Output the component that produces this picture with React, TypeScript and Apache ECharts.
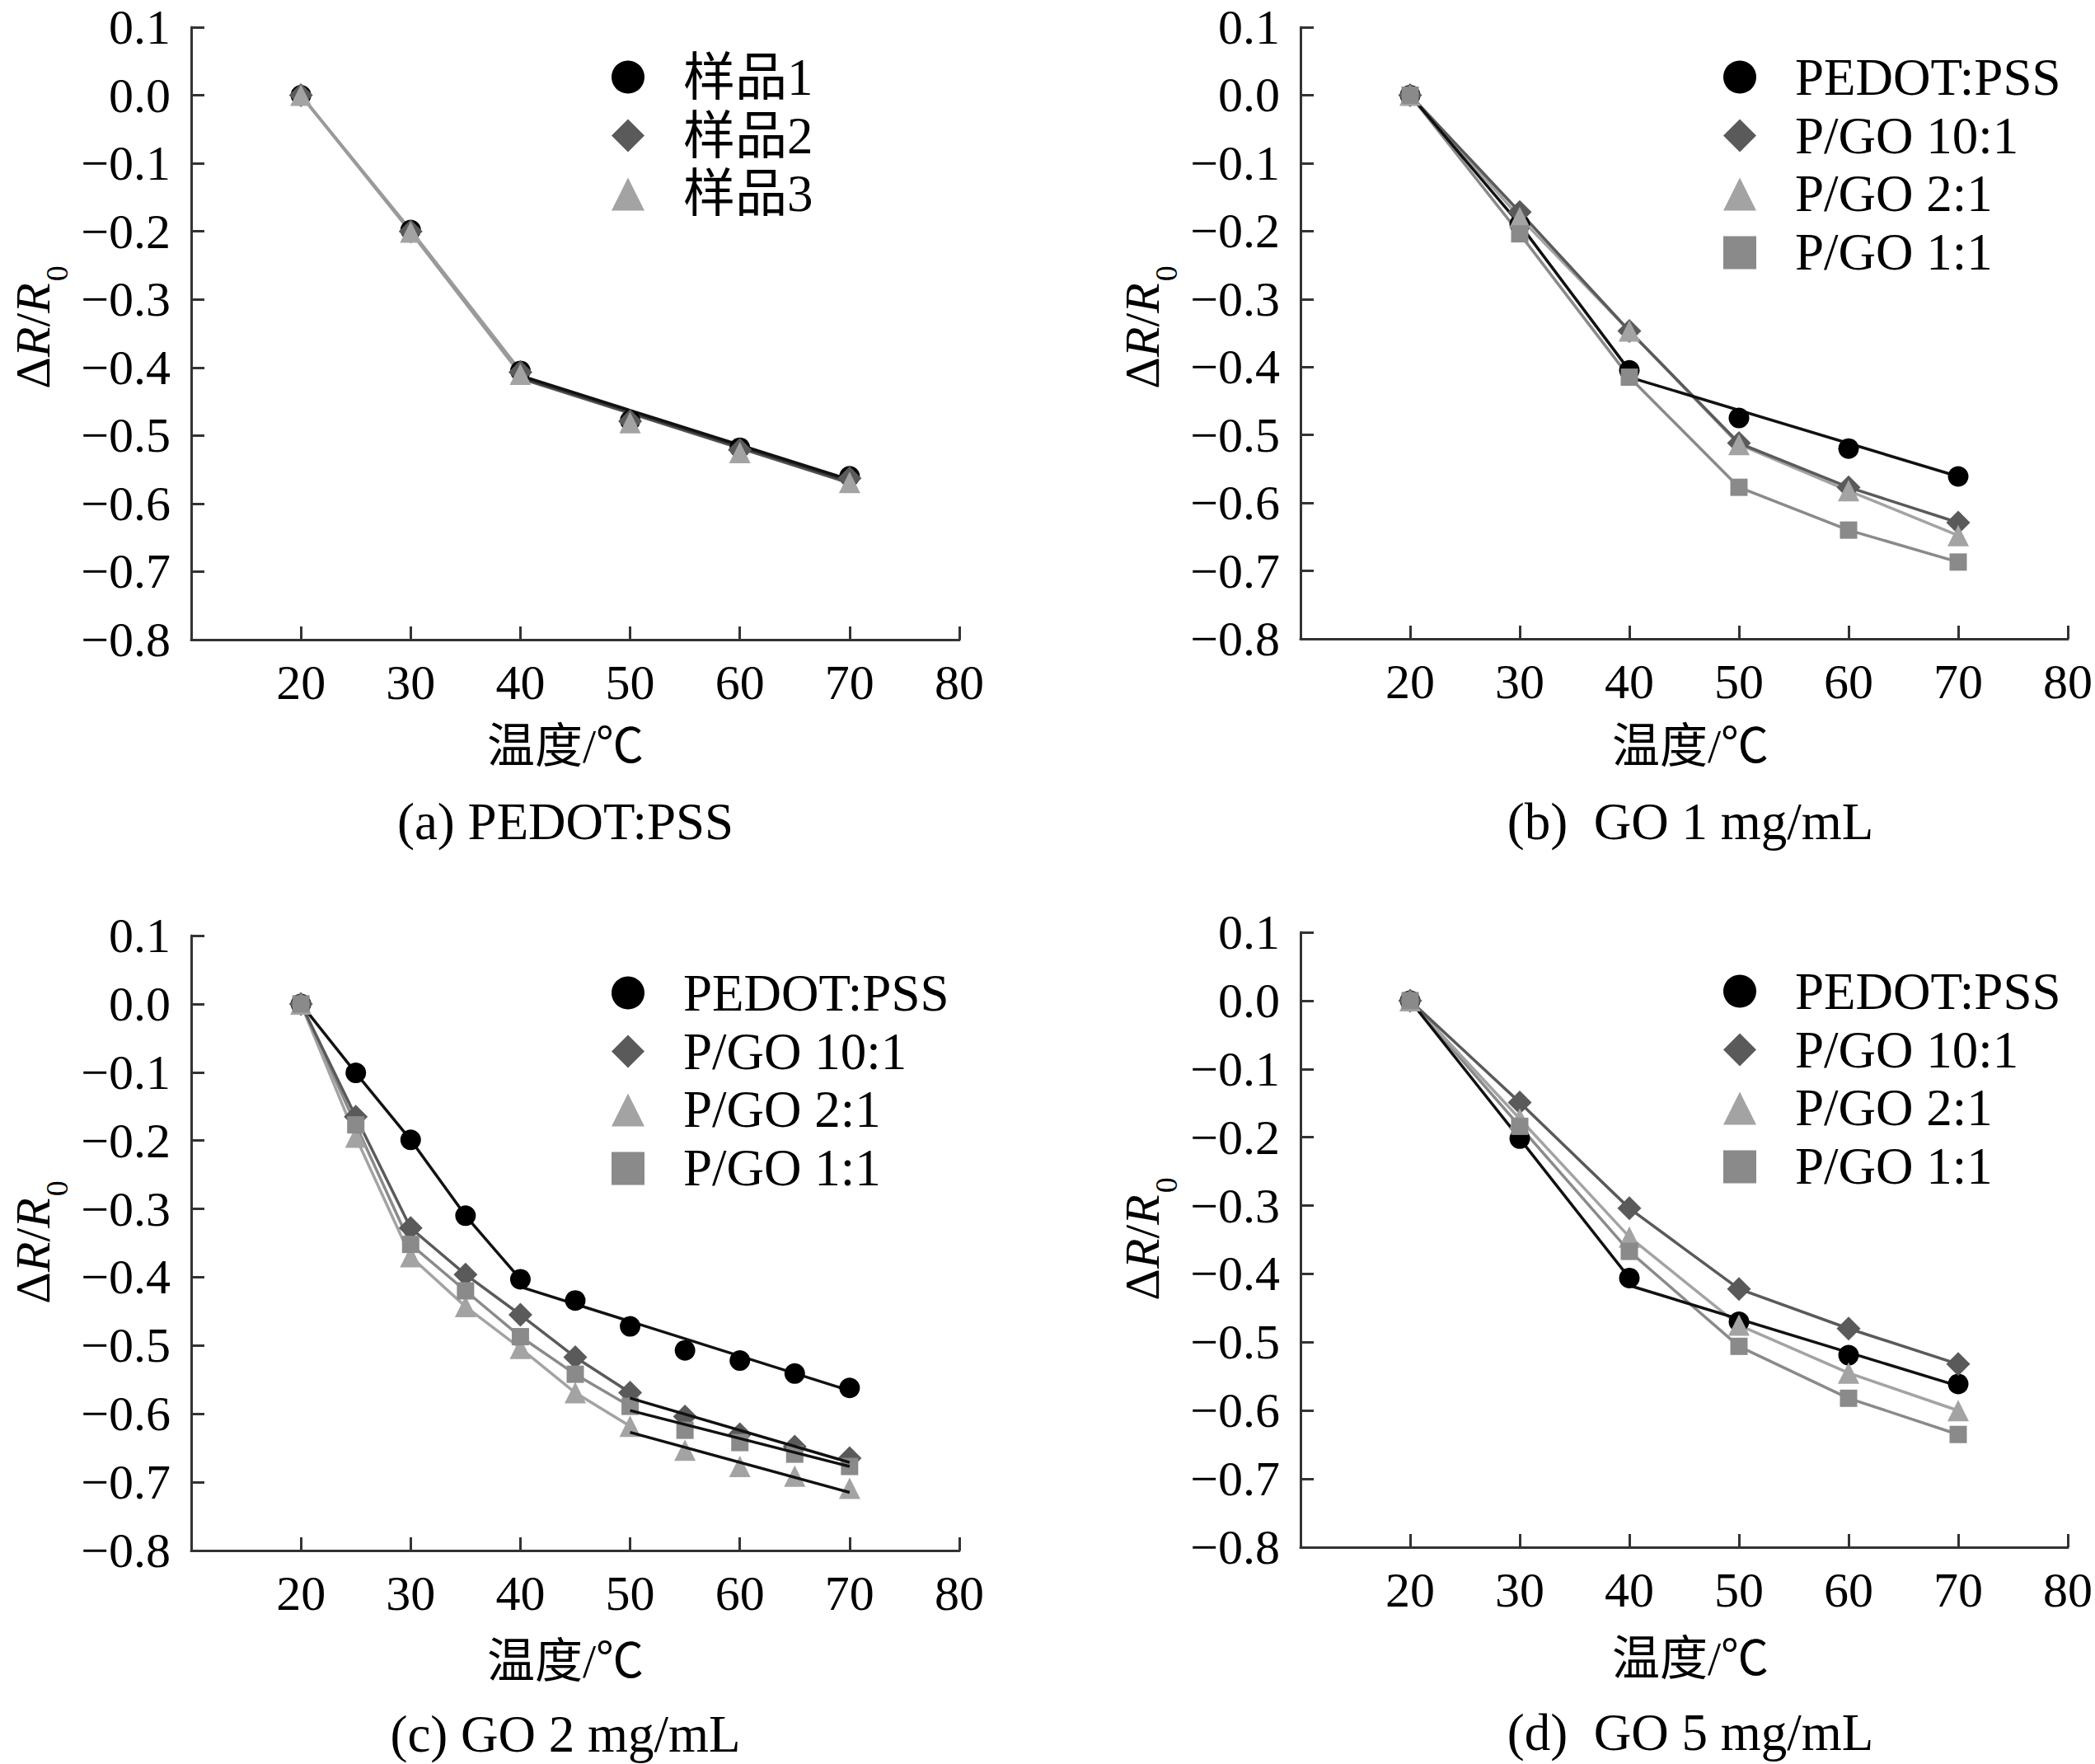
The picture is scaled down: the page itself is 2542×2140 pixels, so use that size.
import React, { useEffect, useRef } from 'react';
import * as echarts from 'echarts';

// ---------- data ----------
const X6 = [20, 30, 40, 50, 60, 70];
const X11 = [20, 25, 30, 35, 40, 45, 50, 55, 60, 65, 70];
const xTicks = [20, 30, 40, 50, 60, 70, 80];
const yTicks = [0.1, 0.0, -0.1, -0.2, -0.3, -0.4, -0.5, -0.6, -0.7, -0.8];

const namesA = ['样品1', '样品2', '样品3'];
const namesGO = ['PEDOT:PSS', 'P/GO 10:1', 'P/GO 2:1', 'P/GO 1:1'];
const captions = ['(a) PEDOT:PSS', '(b)  GO 1 mg/mL', '(c) GO 2 mg/mL', '(d)  GO 5 mg/mL'];
const xName = '温度/℃';

// (a) PEDOT:PSS
const aSample1 = [0, -0.198, -0.405, -0.478, -0.518, -0.56];
const aSample2 = [0, -0.2, -0.407, -0.479, -0.521, -0.563];
const aSample3 = [0, -0.201, -0.41, -0.481, -0.525, -0.569];
const aFitX = [40, 70];
const aFit1 = [-0.412, -0.565];
const aFit2 = [-0.414, -0.567];
const aFit3 = [-0.416, -0.57];

// (b) GO 1 mg/mL
const bPedot = [0, -0.19, -0.405, -0.475, -0.52, -0.561];
const b10 = [0, -0.172, -0.347, -0.512, -0.577, -0.629];
const b2 = [0, -0.18, -0.347, -0.514, -0.582, -0.648];
const b1 = [0, -0.204, -0.415, -0.577, -0.64, -0.687];
const bFitX = [40, 70];
const bFitPedot = [-0.415, -0.561];

// (c) GO 2 mg/mL
const cPedot = [0, -0.101, -0.199, -0.31, -0.403, -0.434, -0.472, -0.507, -0.522, -0.541, -0.562];
const c10 = [0, -0.165, -0.328, -0.396, -0.455, -0.517, -0.569, -0.604, -0.63, -0.648, -0.665];
const c2 = [0, -0.195, -0.37, -0.443, -0.504, -0.569, -0.618, -0.653, -0.677, -0.691, -0.709];
const c1 = [0, -0.177, -0.352, -0.42, -0.487, -0.542, -0.589, -0.624, -0.642, -0.659, -0.677];
const cFitPedotX = [40, 70];
const cFitPedot = [-0.414, -0.566];
const cFitGOX = [50, 70];
const cFit10 = [-0.577, -0.671];
const cFit2 = [-0.627, -0.715];
const cFit1 = [-0.595, -0.677];

// (d) GO 5 mg/mL
const dPedot = [0, -0.202, -0.406, -0.47, -0.519, -0.561];
const d10 = [0, -0.149, -0.304, -0.422, -0.48, -0.532];
const d2 = [0, -0.173, -0.346, -0.475, -0.545, -0.6];
const d1 = [0, -0.184, -0.367, -0.506, -0.582, -0.635];
const dFitX = [40, 70];
const dFitPedot = [-0.417, -0.564];

// ---------- styles ----------
const FONT = "'Liberation Serif', 'Times New Roman', 'Noto Sans CJK SC', serif";
const FS = 60;
const FS_LEG = 63;
const FS_CAP = 63;
const AXIS_COLOR = '#333333';
const MARKS = [
  { symbol: 'circle', size: 25, color: '#000000' },
  { symbol: 'diamond', size: 29, color: '#5a5a5a' },
  { symbol: 'triangle', size: 26, color: '#a3a3a3' },
  { symbol: 'rect', size: 21, color: '#8a8a8a' },
];

const grids = [
  { left: 232, top: 33, width: 932, height: 743 },
  { left: 1578, top: 33, width: 932, height: 742 },
  { left: 232, top: 1135, width: 932, height: 746 },
  { left: 1578, top: 1131, width: 932, height: 746 },
];

const legendPos = [
  { left: 742, top: 62 },
  { left: 2091, top: 62 },
  { left: 742, top: 1173 },
  { left: 2091, top: 1171 },
];

const yNamePos = [
  [32, 397],
  [1378, 397],
  [32, 1507],
  [1378, 1503],
];
const xNamePos = [
  [686, 905],
  [2051, 905],
  [686, 2015],
  [2051, 2012],
];
const capPos = [
  [686, 997],
  [2051, 997],
  [686, 2104],
  [2051, 2102],
];

const zip = (xs: number[], ys: number[]) => xs.map((x, i) => [x, ys[i]]);

function fmtY(v: number) {
  if (Math.abs(v) < 1e-9) return '0.0';
  return v.toFixed(1).replace('-', '\u2212');
}

export default function App() {
  const ref = useRef<HTMLDivElement>(null);

  useEffect(() => {
    document.body.style.margin = '0';
    if (!ref.current) return;
    const chart = echarts.init(ref.current, null, { renderer: 'svg' });

    const series: any[] = [];
    const scatter = (g: number, name: string, m: number, xs: number[], ys: number[]) => {
      series.push({
        type: 'scatter',
        name,
        xAxisIndex: g,
        yAxisIndex: g,
        symbol: MARKS[m].symbol,
        symbolSize: MARKS[m].size,
        itemStyle: { color: MARKS[m].color, opacity: 1 },
        data: zip(xs, ys),
        z: 4,
      });
    };
    const line = (g: number, id: string, color: string, xs: number[], ys: number[], z = 2) => {
      series.push({
        type: 'line',
        name: id,
        xAxisIndex: g,
        yAxisIndex: g,
        showSymbol: false,
        symbol: 'none',
        lineStyle: { color, width: 3.5 },
        data: zip(xs, ys),
        z,
        silent: true,
      });
    };

    // (a)
    const aAll = [aSample1, aSample2, aSample3];
    const aFits = [aFit1, aFit2, aFit3];
    namesA.forEach((n, i) => scatter(0, n, i, X6, aAll[i]));
    [2, 1, 0].forEach((i) => {
      line(0, 'a-seg-' + i, '#9a9a9a', X6.slice(0, 3), aAll[i].slice(0, 3));
    });
    [2, 1, 0].forEach((i) => {
      line(0, 'a-fit-' + i, ['#111111', '#333333', '#555555'][i], aFitX, aFits[i], 3);
    });

    // (b)
    const bAll = [bPedot, b10, b2, b1];
    namesGO.forEach((n, i) => scatter(1, n, i, X6, bAll[i]));
    [3, 2, 1].forEach((i) => line(1, 'b-line-' + i, MARKS[i].color, X6, bAll[i]));
    line(1, 'b-seg-0', '#111111', X6.slice(0, 3), bPedot.slice(0, 3), 3);
    line(1, 'b-fit-0', '#111111', bFitX, bFitPedot, 3);

    // (c)
    const cAll = [cPedot, c10, c2, c1];
    const cFits = [null, cFit10, cFit2, cFit1];
    namesGO.forEach((n, i) => scatter(2, n, i, X11, cAll[i]));
    [3, 2, 1].forEach((i) => {
      line(2, 'c-seg-' + i, MARKS[i].color, X11.slice(0, 7), cAll[i].slice(0, 7));
    });
    [3, 2, 1].forEach((i) => line(2, 'c-fit-' + i, '#111111', cFitGOX, cFits[i] as number[], 5));
    line(2, 'c-seg-0', '#111111', X11.slice(0, 5), cPedot.slice(0, 5), 3);
    line(2, 'c-fit-0', '#111111', cFitPedotX, cFitPedot, 3);

    // (d)
    const dAll = [dPedot, d10, d2, d1];
    namesGO.forEach((n, i) => scatter(3, n, i, X6, dAll[i]));
    [3, 2, 1].forEach((i) => line(3, 'd-line-' + i, MARKS[i].color, X6, dAll[i]));
    line(3, 'd-seg-0', '#111111', X6.slice(0, 3), dPedot.slice(0, 3), 3);
    line(3, 'd-fit-0', '#111111', dFitX, dFitPedot, 3);

    const xAxis = grids.map((_, g) => ({
      type: 'value',
      gridIndex: g,
      min: 10,
      max: 80,
      interval: 10,
      axisLine: { show: true, onZero: false, lineStyle: { color: AXIS_COLOR, width: 3 } },
      axisTick: { show: true, inside: true, length: 16, lineStyle: { color: AXIS_COLOR, width: 3 } },
      axisLabel: {
        show: true,
        margin: 27,
        fontFamily: FONT,
        fontSize: FS,
        lineHeight: 50,
        color: '#000',
        formatter: (v: number) => (xTicks.includes(Math.round(v)) ? String(Math.round(v)) : ''),
      },
      splitLine: { show: false },
    }));

    const yAxis = grids.map((_, g) => ({
      type: 'value',
      gridIndex: g,
      min: -0.8,
      max: 0.1,
      interval: 0.1,
      axisLine: { show: true, onZero: false, lineStyle: { color: AXIS_COLOR, width: 3 } },
      axisTick: { show: true, inside: true, length: 16, lineStyle: { color: AXIS_COLOR, width: 3 } },
      axisLabel: {
        show: true,
        margin: 25,
        fontFamily: FONT,
        fontSize: FS,
        lineHeight: 48,
        color: '#000',
        formatter: (v: number) => {
          const ok = yTicks.some((t) => Math.abs(t - v) < 1e-6);
          return ok ? fmtY(v) : '';
        },
      },
      splitLine: { show: false },
    }));

    const legendNames = [namesA, namesGO, namesGO, namesGO];
    const legend = legendPos.map((p, g) => ({
      left: p.left,
      top: p.top,
      orient: 'vertical',
      padding: 0,
      itemWidth: 40,
      itemHeight: 40,
      itemGap: 8,
      selectedMode: false,
      textStyle: {
        fontFamily: FONT,
        fontSize: FS_LEG,
        color: '#000',
        lineHeight: 60,
        padding: [0, 0, 0, 42],
      },
      data: legendNames[g].map((n, i) => ({
        name: n,
        icon: MARKS[i].symbol,
        itemStyle: { color: MARKS[i].color },
      })),
    }));

    const graphic: any[] = [];
    yNamePos.forEach(([x, y]) => {
      graphic.push({
        type: 'text',
        x,
        y,
        rotation: Math.PI / 2,
        style: {
          text: '{n|Δ}{i|R}{n|/}{i|R}{s|0}',
          align: 'center',
          verticalAlign: 'middle',
          fill: '#000',
          rich: {
            n: { fontFamily: FONT, fontSize: FS, lineHeight: 44, verticalAlign: 'top' },
            i: { fontFamily: FONT, fontSize: FS, fontStyle: 'italic', lineHeight: 44, verticalAlign: 'top' },
            s: { fontFamily: FONT, fontSize: 38, lineHeight: 24, padding: [40, 0, 0, 2], verticalAlign: 'top' },
          },
        },
      });
    });
    xNamePos.forEach(([x, y]) => {
      graphic.push({
        type: 'text',
        x,
        y,
        style: {
          text: xName,
          align: 'center',
          verticalAlign: 'middle',
          fontFamily: FONT,
          fontSize: 58,
          lineHeight: 58,
          fill: '#000',
        },
      });
    });
    capPos.forEach(([x, y], g) => {
      graphic.push({
        type: 'text',
        x,
        y,
        style: {
          text: captions[g],
          align: 'center',
          verticalAlign: 'middle',
          fontFamily: FONT,
          fontSize: FS_CAP,
          lineHeight: 56,
          fill: '#000',
        },
      });
    });

    chart.setOption({
      animation: false,
      backgroundColor: '#ffffff',
      grid: grids,
      xAxis,
      yAxis,
      legend,
      series,
      graphic,
    });

    return () => chart.dispose();
  }, []);

  return <div ref={ref} style={{ width: 2542, height: 2140 }} />;
}
